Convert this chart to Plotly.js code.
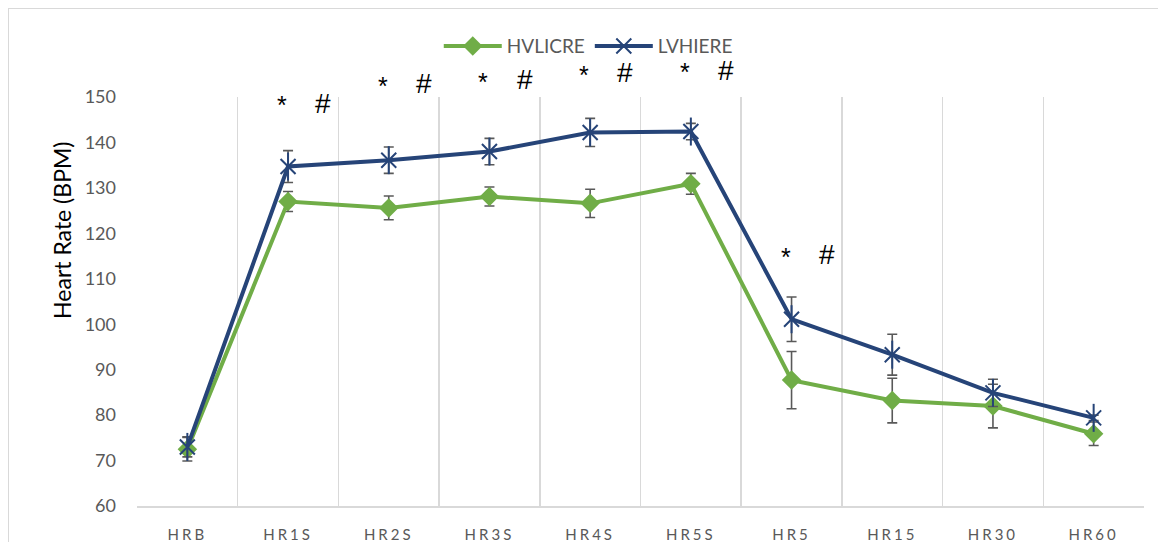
<!DOCTYPE html>
<html>
<head>
<meta charset="utf-8">
<script src="https://cdn.plot.ly/plotly-3.0.1.min.js"></script>
<style>
  html, body { margin: 0; padding: 0; background: #ffffff; overflow: hidden; }
  #frame { position: absolute; left: 8px; top: 8px; width: 1200px; height: 600px; border: 1.5px solid #d9d9d9; box-sizing: border-box; }
  #chart { position: absolute; left: 0; top: 0; width: 1158px; height: 542px; }
  .xtick text { letter-spacing: 3px; }
</style>
</head>
<body>
<div id="frame"></div>
<div id="chart"></div>
<script>
// ---- data ----
const categories = ["HRB", "HR1S", "HR2S", "HR3S", "HR4S", "HR5S", "HR5", "HR15", "HR30", "HR60"];
const hvlicre = [72.5, 127.0, 125.6, 128.1, 126.6, 130.9, 87.7, 83.2, 82.0, 75.9];
const hvlicreErr = [2.6, 2.2, 2.6, 2.1, 3.1, 2.3, 6.3, 4.9, 4.8, 2.6];
const lvhiere = [73.0, 134.7, 136.1, 138.0, 142.2, 142.4, 101.1, 93.3, 84.9, 79.4];
const lvhiereErr = [2.2, 3.5, 2.9, 2.9, 3.1, 1.8, 4.9, 4.5, 3.0, 0.6];
const yTicks = [60, 70, 80, 90, 100, 110, 120, 130, 140, 150];
const yTitle = "Heart Rate (BPM)";
// significance markers: category and height (paper fraction) of the text row
const sigCats = ["HR1S", "HR2S", "HR3S", "HR4S", "HR5S", "HR5"];
const sigLevels = [0.985, 1.032, 1.042, 1.059, 1.066, 0.614];

const green = "#70AD47";
const blue = "#264478";
const errColor = "#595959";
const idx = categories.map((c, i) => i);

const errStyle = (arr) => ({ type: "data", array: arr, visible: true, color: errColor, thickness: 1.6, width: 5 });

const traces = [
  {
    x: idx, y: hvlicre, name: "HVLICRE", type: "scatter", mode: "lines+markers",
    line: { color: green, width: 4 },
    marker: { symbol: "diamond", size: 15, color: green },
    error_y: errStyle(hvlicreErr),
    cliponaxis: false
  },
  {
    x: idx, y: lvhiere, name: "LVHIERE", type: "scatter", mode: "lines+markers",
    line: { color: blue, width: 4 },
    marker: { symbol: "x-thin-open", size: 15, color: blue, line: { color: blue, width: 2 } },
    error_y: errStyle(lvhiereErr),
    legendgroup: "lv",
    cliponaxis: false
  },
  {
    x: idx, y: lvhiere, name: "LVHIERE", type: "scatter", mode: "markers",
    marker: { symbol: "line-ns-open", size: 20, color: blue, line: { color: blue, width: 2 } },
    legendgroup: "lv", showlegend: false, hoverinfo: "skip",
    cliponaxis: false
  }
];

const annotations = [];
sigCats.forEach((c, k) => {
  const i = categories.indexOf(c);
  annotations.push({ xref: "x", yref: "paper", x: i - 0.06, y: sigLevels[k] - 0.005, text: "*", showarrow: false,
    font: { family: "'Liberation Sans', Arial, sans-serif", size: 25, color: "#000000" }, yanchor: "middle" });
  annotations.push({ xref: "x", yref: "paper", x: i + 0.35, y: sigLevels[k], text: "#", showarrow: false,
    font: { family: "'Liberation Sans', Arial, sans-serif", size: 28, color: "#000000" }, yanchor: "middle" });
});
annotations.push({
  xref: "paper", yref: "paper", x: -0.0745, y: 0.675, text: yTitle, textangle: -90, showarrow: false,
  xanchor: "center", yanchor: "middle",
  font: { family: "Lato, 'Liberation Sans', sans-serif", size: 23, color: "#000000" }
});

const layout = {
  width: 1158, height: 542,
  margin: { l: 137, r: 14, t: 97, b: 36 },
  paper_bgcolor: "rgba(0,0,0,0)",
  plot_bgcolor: "rgba(0,0,0,0)",
  font: { family: "Lato, 'Liberation Sans', sans-serif", color: "#595959" },
  showlegend: true,
  legend: {
    orientation: "h", xref: "container", yref: "container",
    x: 0.508, y: 0.915, xanchor: "center", yanchor: "middle",
    font: { size: 19, color: "#595959" }, itemwidth: 58, traceorder: "normal",
    bgcolor: "rgba(0,0,0,0)"
  },
  xaxis: {
    type: "linear",
    range: [-0.5, 9.5],
    tickvals: idx, ticktext: categories,
    showgrid: false,
    minor: { tickvals: idx.slice(0, -1).map(i => i + 0.5).concat([-0.5]), showgrid: true, gridcolor: "#d9d9d9", gridwidth: 1.5, ticks: "" },
    showline: true, linecolor: "#d9d9d9", linewidth: 1.5,
    zeroline: false, ticks: "",
    tickfont: { size: 15, color: "#595959" },
    ticklabelstandoff: 14
  },
  yaxis: {
    range: [60, 150], tickvals: yTicks,
    showgrid: false, zeroline: false, showline: false, ticks: "",
    tickfont: { size: 18, color: "#595959" },
    ticklabelstandoff: 20
  },
  annotations: annotations
};

Plotly.newPlot("chart", traces, layout, { displayModeBar: false, staticPlot: true });
</script>
</body>
</html>
